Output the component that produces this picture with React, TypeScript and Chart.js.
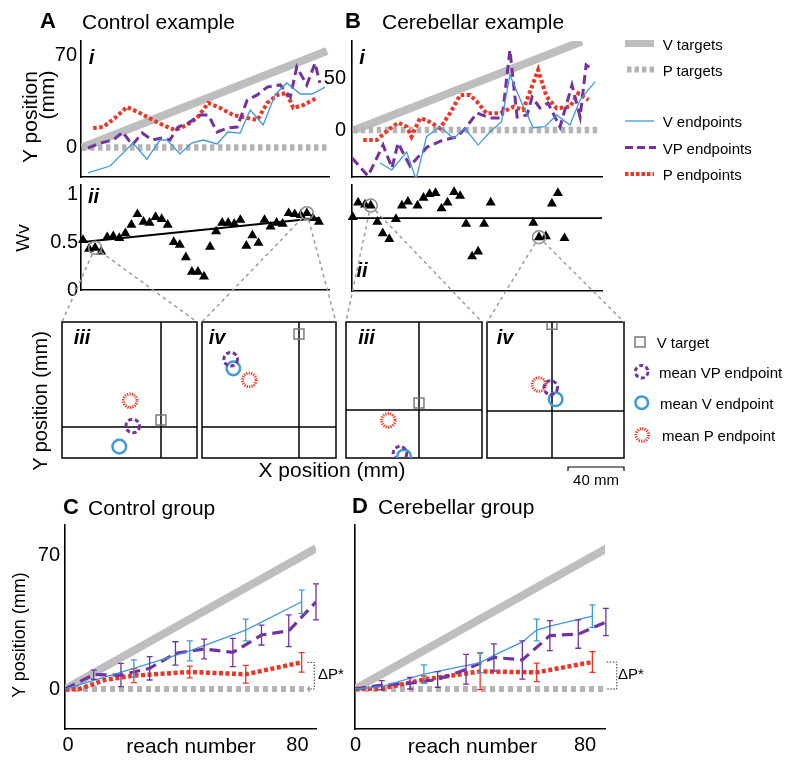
import React, { useEffect, useRef } from 'react';
import { Chart, registerables } from 'chart.js';

Chart.register(...registerables);

const FONT = '"Liberation Sans", Arial, Helvetica, sans-serif';
Chart.defaults.font.family = FONT;
Chart.defaults.color = '#000';

const GRAY = '#bebebe';
const GRAY_DOT = '#b4b4b4';
const BLUE = '#3e9ad8';
const PURPLE = '#7232a0';
const RED = '#ee3424';
const RING = '#8c8c8c';

// ===== A: control example, panel i (Y position in mm vs reach) =====
const A_VTARGET_X = [0, 41.5];
const A_VTARGET_Y = [0, 73.5];
const A_PTARGET_X = [0, 41.7];
const A_PTARGET_Y = [0, 0];
const A_V_X = [1.0, 4.75, 8.64, 11.0, 13.2, 14.4, 16.6, 18.6, 20.5, 22.9, 24.7, 26.8, 28.5, 30.7, 32.7, 34.7, 37.0, 39.0, 41.2];
const A_V_Y = [-19.4, -14.1, 3.4, -8.8, 5.7, 5.7, -4.9, 3.4, 5.7, 2.7, 11.8, 11.0, 28.5, 17.1, 40.0, 49.1, 40.7, 40.7, 46.0];
const A_VP_X = [1.0, 3.1, 5.3, 6.9, 8.5, 10.2, 11.9, 13.6, 14.9, 16.3, 18.0, 20.0, 21.4, 22.9, 24.6, 26.3, 28.0, 29.7, 31.4, 33.6, 35.3, 36.4, 38.1, 39.5, 40.3];
const A_VP_Y = [-0.4, 3.4, 5.7, 11.8, 1.9, 11.0, 5.7, 7.2, 5.7, 15.6, 18.6, 24.7, 24.7, 11.8, 14.8, 15.6, 36.1, 40.0, 46.0, 47.6, 38.4, 61.3, 47.6, 64.3, 49.1];
const A_P_X = [1.9, 3.6, 5.6, 7.6, 9.8, 12.0, 13.7, 15.8, 17.8, 19.5, 21.4, 23.4, 25.6, 28.0, 29.7, 31.4, 33.1, 34.7, 35.8, 37.5, 39.8];
const A_P_Y = [14.8, 15.6, 22.5, 30.8, 26.3, 20.9, 17.1, 13.3, 17.1, 22.5, 33.9, 30.1, 24.7, 22.5, 20.9, 33.9, 40.0, 41.5, 30.1, 32.3, 37.7];

// ===== A ii: visual weight per VP reach =====
const A_WV = [0.52, 0.43, 0.44, 0.40, 0.55, 0.56, 0.54, 0.59, 0.68, 0.79, 0.71, 0.70, 0.76, 0.74, 0.68, 0.50, 0.47, 0.34, 0.19, 0.19,
  0.14, 0.45, 0.61, 0.70, 0.70, 0.69, 0.73, 0.46, 0.57, 0.49, 0.73, 0.66, 0.70, 0.69, 0.80, 0.79, 0.78, 0.80, 0.75, 0.71];
const A_WV_X = A_WV.map((_, i) => i);
const A_FIT_X = [0, 39];
const A_FIT_Y = [0.5, 0.75];
const A_PICK = [2, 37];

// ===== B: cerebellar example, panel i =====
const B_VTARGET_X = [0.3, 38.2];
const B_VTARGET_Y = [0, 86];
const B_PTARGET_X = [0, 40.9];
const B_PTARGET_Y = [0, 0];
const B_V_X = [4.55, 6.5, 9.0, 10.55, 12.3, 14.55, 16.8, 18.7, 20.9, 22.9, 24.8, 26.2, 28.2, 30.1, 32.05, 34, 36.2, 37.9, 40.4];
const B_V_Y = [-32, -38.8, -21.4, -48, -6.5, 3.2, -8.1, 1.7, -14.6, -1.7, 8.1, 53.4, 25.9, 2.2, 3.2, 14.6, 4.9, 29.1, 46.9];
const B_VP_X = [-0.1, 2.55, 5.05, 6.55, 7.55, 9.55, 12.4, 15.05, 17.4, 18.8, 20.7, 22.9, 24.9, 26.2, 27.4, 29.05, 29.9, 31.2, 32.55, 34.55, 36.55, 37.9, 38.9, 40.05];
const B_VP_Y = [-27.2, -44.7, -14.6, -36.9, -12.6, -35, -16.5, -9.7, -6.8, 1.9, 16.5, 11.7, 11.7, 77.7, 12.6, 14.6, 32, 21.4, 26.2, 2.9, 43.7, 12.6, 63.1, 58.3];
const B_P_X = [1.75, 4.0, 5.9, 7.6, 9.0, 9.8, 11.2, 12.3, 14.55, 16.2, 17.9, 19.55, 20.7, 22.3, 24.55, 26.8, 28.4, 30.9, 32.3, 34, 36.2, 37.6, 39.3];
const B_P_Y = [-9.7, -9.7, 0, 7.1, 3.2, -6.5, 11.4, 9.7, 1.7, 16.2, 34, 34, 27.5, 16.2, 16.2, 22.6, 19.4, 58.3, 32.3, 21.1, 22.6, 35.6, 29.1];

// ===== B ii =====
const B_WV_X = [0, 0.9, 2.05, 3, 4.1, 5, 6.1, 7.2, 8.2, 9.2, 10.8, 11.8, 12.8, 13.8, 14.8, 15.8, 16.9, 17.9, 18.9, 19.9, 20.9, 21.9, 23, 30.1, 31.05, 32.2, 33.2, 34.2, 35.3];
const B_WV = [0.77, 0.92, 0.90, 0.89, 0.72, 0.60, 0.54, 0.75, 0.89, 0.93, 0.89, 0.97, 1.01, 1.02, 0.86, 0.92, 1.03, 0.99, 0.70, 0.36, 0.41, 0.70, 0.92, 0.71, 0.56, 0.57, 0.91, 1.02, 0.55];
const B_WV_MEAN = 0.76;
const B_PICK = [3, 24];

// ===== iii / iv: endpoint positions (mm), [x, y] =====
const TARGET_X = 0;
const P_TARGET_Y = 0;
const A3_VT = [0, 5]; const A3_VP = [-20.2, 0.7]; const A3_V = [-29.8, -14]; const A3_P = [-22.1, 18.8];
const A4_VT = [0, 66.4]; const A4_VP = [-48.8, 48.4]; const A4_V = [-46.9, 41.9]; const A4_P = [-35.5, 33.6];
const B3_VT = [0, 5]; const B3_VP = [-13.6, -31]; const B3_V = [-10.7, -33.2]; const B3_P = [-21.9, -7.4];
const B4_VT = [0, 61.9]; const B4_VP = [-0.9, 16.7]; const B4_V = [2.6, 8.4]; const B4_P = [-9.3, 18.9];
const SCALE_BAR_MM = 40;

// ===== C: control group =====
const C_VTARGET_X = [0, 87.5];
const C_VTARGET_Y = [0, 73.5];
const C_PTARGET_X = [0, 85.4];
const C_PTARGET_Y = [0, 0];
const C_V_X = [0, 24, 43.5, 63, 82.5];
const C_V_Y = [0, 10.8, 19.9, 30.8, 45.6];
const C_V_ERR = [0, 4.4, 5.2, 5.7, 6.1];
const C_VP_X = [0, 10, 19.5, 29.5, 38.5, 48.5, 58.5, 68.5, 78, 87.5];
const C_VP_Y = [0, 7.5, 7.3, 10.8, 18.6, 20.9, 19.1, 28.2, 30.4, 45.5];
const C_VP_ERR = [0, 2.4, 6.1, 6.1, 6.1, 5.2, 7.4, 5.2, 8.3, 9.4];
const C_P_X = [0, 5, 14, 24, 43.5, 63, 82.5];
const C_P_Y = [-0.3, 0, 4.8, 7.0, 8.9, 7.7, 13.9];
const C_P_ERR = [0, 0, 0, 3.7, 3.1, 4.6, 5.1];

// ===== D: cerebellar group =====
const D_VTARGET_X = [0, 87.7];
const D_VTARGET_Y = [0, 73.5];
const D_PTARGET_X = [0, 87.1];
const D_PTARGET_Y = [0, 0];
const D_V_X = [0, 9.3, 24, 43.6, 48.4, 58.3, 63.3, 67.9, 82.7];
const D_V_Y = [0, 1.2, 7.8, 13.8, 17.6, 24.6, 30.8, 32.9, 38.1];
const D_V_ERR = [0, 0, 4.8, 5.2, 0, 0, 5.7, 0, 5.9];
const D_VP_X = [0, 9.3, 19.2, 28.8, 38.7, 48.4, 58.3, 67.9, 77.8, 87.4];
const D_VP_Y = [0, 2.0, 3.0, 5.0, 10.3, 16.5, 15.2, 27.9, 28.7, 35.0];
const D_VP_ERR = [0, 2.4, 3.0, 4.1, 7.8, 7.1, 10, 7.8, 7.4, 7.1];
const D_P_X = [0, 9.3, 24, 43.6, 63.3, 82.7];
const D_P_Y = [0, 0.2, 4.9, 9.2, 8.7, 14.1];
const D_P_ERR = [0, 0, 1.9, 9.5, 4.8, 5.4];

const C_TICKS_X = [0, 80];
const C_TICKS_Y = [0, 70];

// ---------------- helpers ----------------
type Rect = { l: number; t: number; r: number; b: number };
type Marg = { L: number; T: number; R: number; B: number };

const pts = (xs: number[], ys: number[]) => xs.map((x, i) => ({ x, y: ys[i] }));
const one = (p: number[]) => [{ x: p[0], y: p[1] }];

const line = (xs: number[], ys: number[], color: string, width: number, dash: number[] = [], order = 0, extra: any = {}) => ({
  data: pts(xs, ys), borderColor: color, borderWidth: width, borderDash: dash, pointRadius: 0,
  showLine: true, fill: false, tension: 0, order, borderCapStyle: 'butt', ...extra,
});

const marks = (data: any[], style: string, radius: number, color: string, bg: string, bw: number, order: number, extra: any = {}) => ({
  data, showLine: false, pointStyle: style, pointRadius: radius, pointBorderColor: color,
  pointBackgroundColor: bg, pointBorderWidth: bw, order, ...extra,
});

type AxisSpec = { min: number; max: number; ticks?: number[]; pad?: number; labelOffset?: number };

function axis(dir: 'x' | 'y', s: AxisSpec, size: number) {
  const vals = s.ticks && s.ticks.length ? s.ticks : null;
  return {
    type: 'linear',
    position: dir === 'x' ? 'bottom' : 'left',
    min: s.min, max: s.max,
    grid: { display: false, drawTicks: false },
    border: { display: true, color: '#000', width: 1.6 },
    ticks: {
      display: !!vals, autoSkip: false, maxRotation: 0, minRotation: 0,
      padding: s.pad ?? 4, labelOffset: s.labelOffset ?? 0,
      color: '#000', font: { size: 20, family: FONT },
      callback: (v: number) => String(v),
    },
    afterBuildTicks: (sc: any) => { sc.ticks = (vals || [s.min]).map((v) => ({ value: v })); },
    afterFit: (sc: any) => {
      if (dir === 'x') { sc.height = size; sc.paddingLeft = 0; sc.paddingRight = 0; }
      else { sc.width = size; sc.paddingTop = 0; sc.paddingBottom = 0; }
    },
  };
}

function opts(m: Marg, scales: any, plugins: any = {}, boxed = false) {
  return {
    responsive: false, maintainAspectRatio: false, animation: false, events: [],
    layout: {
      autoPadding: false,
      padding: boxed ? { left: m.L, top: m.T, right: m.R, bottom: m.B } : { left: 0, top: m.T, right: m.R, bottom: 0 },
    },
    plugins: { legend: { display: false }, tooltip: { enabled: false }, ...plugins },
    scales,
  };
}

const errorBars = {
  id: 'errorBars',
  afterDatasetsDraw(chart: any) {
    const { ctx } = chart;
    const xs = chart.scales.x, ys = chart.scales.y;
    chart.data.datasets.forEach((ds: any) => {
      if (!ds.errors) return;
      ctx.save();
      ctx.setLineDash([]);
      ctx.strokeStyle = ds.errorColor || ds.borderColor;
      ctx.lineWidth = 1.3;
      ds.data.forEach((p: any, i: number) => {
        const e = ds.errors[i];
        if (!e) return;
        const px = xs.getPixelForValue(p.x);
        const y1 = ys.getPixelForValue(p.y + e);
        const y2 = ys.getPixelForValue(p.y - e);
        ctx.beginPath();
        ctx.moveTo(px, y1); ctx.lineTo(px, y2);
        ctx.moveTo(px - 3, y1); ctx.lineTo(px + 3, y1);
        ctx.moveTo(px - 3, y2); ctx.lineTo(px + 3, y2);
        ctx.stroke();
      });
      ctx.restore();
    });
  },
};

const pointDash = {
  id: 'pointDash',
  beforeDatasetDraw(chart: any, args: any) {
    const ds = chart.data.datasets[args.index];
    if (ds.pointDash) { chart.ctx.save(); chart.ctx.setLineDash(ds.pointDash); }
  },
  afterDatasetDraw(chart: any, args: any) {
    const ds = chart.data.datasets[args.index];
    if (ds.pointDash) chart.ctx.restore();
  },
};

const frame = {
  id: 'frame',
  beforeDatasetsDraw(chart: any, _a: any, o: any) {
    const { ctx, chartArea: a } = chart;
    ctx.save();
    ctx.setLineDash([]);
    ctx.strokeStyle = '#000';
    ctx.lineWidth = 1.5;
    ctx.strokeRect(a.left, a.top, a.right - a.left, a.bottom - a.top);
    const px = chart.scales.x.getPixelForValue(o.cx);
    const py = chart.scales.y.getPixelForValue(o.cy);
    ctx.beginPath();
    ctx.moveTo(px, a.top); ctx.lineTo(px, a.bottom);
    ctx.moveTo(a.left, py); ctx.lineTo(a.right, py);
    ctx.stroke();
    ctx.restore();
  },
};

const bracket = {
  id: 'bracket',
  afterDraw(chart: any, _a: any, o: any) {
    const { ctx } = chart;
    const x1 = chart.scales.x.getPixelForValue(o.x1);
    const x2 = chart.scales.x.getPixelForValue(o.x2);
    const yt = chart.scales.y.getPixelForValue(o.top);
    const yb = chart.scales.y.getPixelForValue(o.bottom);
    ctx.save();
    ctx.strokeStyle = '#333';
    ctx.lineWidth = 1;
    ctx.setLineDash([1.5, 1.5]);
    ctx.beginPath();
    ctx.moveTo(x1, yt); ctx.lineTo(x2, yt); ctx.lineTo(x2, yb); ctx.lineTo(x1, yb);
    ctx.stroke();
    ctx.restore();
  },
};

function examplePanel(m: Marg, d: any) {
  return {
    type: 'scatter',
    data: {
      datasets: [
        line(d.vtx, d.vty, GRAY, 8, [], 10),
        line(d.ptx, d.pty, GRAY_DOT, 6.5, [4.5, 3.5], 9),
        line(d.px, d.py, RED, 4, [3.5, 2.5], 3),
        line(d.vpx, d.vpy, PURPLE, 3, [9, 5], 2),
        line(d.vx, d.vy, BLUE, 1.3, [], 1),
      ],
    },
    options: opts(m, { x: axis('x', d.xa, m.B), y: axis('y', d.ya, m.L) }),
  };
}

function weightPanel(m: Marg, d: any) {
  return {
    type: 'scatter',
    data: {
      datasets: [
        marks(d.rings, 'circle', 6.5, RING, 'rgba(0,0,0,0)', 1.5, 1, { clip: false }),
        marks(pts(d.wx, d.wy), 'triangle', 5.8, '#000', '#000', 0, 2, { clip: false }),
        line(d.fx, d.fy, '#000', 1.8, [], 3),
      ],
    },
    options: opts(m, { x: axis('x', d.xa, m.B), y: axis('y', d.ya, m.L) }),
  };
}

function endpointPanel(m: Marg, d: any) {
  return {
    type: 'scatter',
    data: {
      datasets: [
        marks(one(d.vt), 'rect', 7, '#7a7a7a', 'rgba(0,0,0,0)', 1.5, 4, { clip: 0 }),
        marks(one(d.p), 'circle', 6.8, RED, 'rgba(0,0,0,0)', 3, 3, { clip: 0, pointDash: [1.2, 1.2] }),
        marks(one(d.v), 'circle', 6.8, BLUE, 'rgba(0,0,0,0)', 2.5, 2, { clip: 0 }),
        marks(one(d.vp), 'circle', 6.8, PURPLE, 'rgba(0,0,0,0)', 3, 1, { clip: 0, pointDash: [4.2, 2.6] }),
      ],
    },
    options: opts(m, {
      x: { type: 'linear', display: false, min: d.xr[0], max: d.xr[1] },
      y: { type: 'linear', display: false, min: d.yr[0], max: d.yr[1] },
    }, { frame: { cx: TARGET_X, cy: P_TARGET_Y } }, true),
    plugins: [frame, pointDash],
  };
}

function groupPanel(m: Marg, d: any) {
  return {
    type: 'scatter',
    data: {
      datasets: [
        line(d.vtx, d.vty, GRAY, 8, [], 10),
        line(d.ptx, d.pty, GRAY_DOT, 6, [5, 4], 9),
        line(d.px, d.py, RED, 4.5, [4, 2.5], 3, { errors: d.pe, errorColor: RED }),
        line(d.vpx, d.vpy, PURPLE, 3.2, [11, 6], 2, { errors: d.vpe, errorColor: PURPLE }),
        line(d.vx, d.vy, BLUE, 1.3, [], 1, { errors: d.ve, errorColor: BLUE }),
      ],
    },
    options: opts(m, { x: axis('x', d.xa, m.B), y: axis('y', d.ya, m.L) }, { bracket: d.br }),
    plugins: [errorBars, bracket],
  };
}

type Panel = { key: string; area: Rect; m: Marg; build: (m: Marg) => any };

const PANELS: Panel[] = [
  {
    key: 'ai', area: { l: 81, t: 41, r: 329, b: 177 }, m: { L: 40, T: 2, R: 4, B: 4 },
    build: (m) => examplePanel(m, {
      vtx: A_VTARGET_X, vty: A_VTARGET_Y, ptx: A_PTARGET_X, pty: A_PTARGET_Y,
      px: A_P_X, py: A_P_Y, vpx: A_VP_X, vpy: A_VP_Y, vx: A_V_X, vy: A_V_Y,
      xa: { min: -0.17, max: 41.86 }, ya: { min: -22.45, max: 81.05, ticks: [0, 70], pad: 4 },
    }),
  },
  {
    key: 'aii', area: { l: 81, t: 185, r: 329, b: 290 }, m: { L: 45, T: 2, R: 4, B: 14 },
    build: (m) => weightPanel(m, {
      wx: A_WV_X, wy: A_WV, fx: A_FIT_X, fy: A_FIT_Y,
      rings: A_PICK.map((i) => ({ x: A_WV_X[i], y: A_WV[i] })),
      xa: { min: -0.33, max: 40.66 }, ya: { min: 0, max: 1.094, ticks: [0, 0.5, 1], pad: 3 },
    }),
  },
  {
    key: 'bi', area: { l: 352, t: 41, r: 602, b: 177 }, m: { L: 40, T: 2, R: 4, B: 4 },
    build: (m) => examplePanel(m, {
      vtx: B_VTARGET_X, vty: B_VTARGET_Y, ptx: B_PTARGET_X, pty: B_PTARGET_Y,
      px: B_P_X, py: B_P_Y, vpx: B_VP_X, vpy: B_VP_Y, vx: B_V_X, vy: B_V_Y,
      xa: { min: -0.12, max: 41.55 }, ya: { min: -45.6, max: 86.4, ticks: [0, 50], pad: 6 },
    }),
  },
  {
    key: 'bii', area: { l: 352, t: 185, r: 602, b: 291 }, m: { L: 10, T: 2, R: 4, B: 4 },
    build: (m) => weightPanel(m, {
      wx: B_WV_X, wy: B_WV, fx: [-0.12, 41.55], fy: [B_WV_MEAN, B_WV_MEAN],
      rings: B_PICK.map((i) => ({ x: B_WV_X[i], y: B_WV[i] })),
      xa: { min: -0.12, max: 41.55 }, ya: { min: 0, max: 1.104 },
    }),
  },
  {
    key: 'aiii', area: { l: 62, t: 322, r: 197, b: 458 }, m: { L: 3, T: 3, R: 3, B: 3 },
    build: (m) => endpointPanel(m, { vt: A3_VT, vp: A3_VP, v: A3_V, p: A3_P, xr: [-70.71, 25.71], yr: [-22.14, 75] }),
  },
  {
    key: 'aiv', area: { l: 202, t: 322, r: 336, b: 458 }, m: { L: 3, T: 3, R: 3, B: 3 },
    build: (m) => endpointPanel(m, { vt: A4_VT, vp: A4_VP, v: A4_V, p: A4_P, xr: [-69.29, 26.43], yr: [-22.14, 75] }),
  },
  {
    key: 'biii', area: { l: 346, t: 322, r: 482, b: 458 }, m: { L: 3, T: 3, R: 3, B: 3 },
    build: (m) => endpointPanel(m, { vt: B3_VT, vp: B3_VP, v: B3_V, p: B3_P, xr: [-52.14, 45], yr: [-34.29, 62.86] }),
  },
  {
    key: 'biv', area: { l: 487, t: 322, r: 624, b: 458 }, m: { L: 3, T: 3, R: 3, B: 3 },
    build: (m) => endpointPanel(m, { vt: B4_VT, vp: B4_VP, v: B4_V, p: B4_P, xr: [-46.43, 51.43], yr: [-33.57, 63.57] }),
  },
  {
    key: 'c', area: { l: 65, t: 525, r: 316, b: 729 }, m: { L: 45, T: 4, R: 22, B: 30 },
    build: (m) => groupPanel(m, {
      vtx: C_VTARGET_X, vty: C_VTARGET_Y, ptx: C_PTARGET_X, pty: C_PTARGET_Y,
      px: C_P_X, py: C_P_Y, pe: C_P_ERR, vpx: C_VP_X, vpy: C_VP_Y, vpe: C_VP_ERR, vx: C_V_X, vy: C_V_Y, ve: C_V_ERR,
      xa: { min: 0, max: 87.5, ticks: C_TICKS_X, pad: 4, labelOffset: 3 },
      ya: { min: -20.9, max: 85.7, ticks: C_TICKS_Y, pad: 5 },
      br: { x1: 84.5, x2: 86.9, top: C_P_Y[C_P_Y.length - 1], bottom: C_PTARGET_Y[0] },
    }),
  },
  {
    key: 'd', area: { l: 355, t: 525, r: 605, b: 729 }, m: { L: 10, T: 4, R: 22, B: 30 },
    build: (m) => groupPanel(m, {
      vtx: D_VTARGET_X, vty: D_VTARGET_Y, ptx: D_PTARGET_X, pty: D_PTARGET_Y,
      px: D_P_X, py: D_P_Y, pe: D_P_ERR, vpx: D_VP_X, vpy: D_VP_Y, vpe: D_VP_ERR, vx: D_V_X, vy: D_V_Y, ve: D_V_ERR,
      xa: { min: 0, max: 87.1, ticks: C_TICKS_X, pad: 4, labelOffset: 0.5 },
      ya: { min: -20.9, max: 85.7 },
      br: { x1: 87.7, x2: 91.2, top: D_P_Y[D_P_Y.length - 1], bottom: D_PTARGET_Y[0] },
    }),
  },
];

const PANEL_MAP: Record<string, Panel> = Object.fromEntries(PANELS.map((p) => [p.key, p]));

function drawOverlay(cv: HTMLCanvasElement, charts: Record<string, any>) {
  const ctx = cv.getContext('2d');
  if (!ctx) return;
  ctx.clearRect(0, 0, cv.width, cv.height);
  const origin = (k: string) => { const p = PANEL_MAP[k]; return [p.area.l - p.m.L, p.area.t - p.m.T]; };
  const dataPx = (k: string, x: number, y: number) => {
    const [ox, oy] = origin(k); const c = charts[k];
    return [ox + c.scales.x.getPixelForValue(x), oy + c.scales.y.getPixelForValue(y)];
  };
  const topCorner = (k: string, right: boolean) => {
    const [ox, oy] = origin(k); const a = charts[k].chartArea;
    return [ox + (right ? a.right : a.left), oy + a.top];
  };
  ctx.save();
  ctx.strokeStyle = '#9c9c9c';
  ctx.lineWidth = 1.5;
  ctx.setLineDash([3.5, 3.5]);
  const link = (f: number[], t: number[]) => {
    const dx = t[0] - f[0], dy = t[1] - f[1];
    const d = Math.hypot(dx, dy) || 1;
    const r = 7;
    ctx.beginPath();
    ctx.moveTo(f[0] + (dx / d) * r, f[1] + (dy / d) * r);
    ctx.lineTo(t[0], t[1]);
    ctx.stroke();
  };
  const a1 = dataPx('aii', A_WV_X[A_PICK[0]], A_WV[A_PICK[0]]);
  const a2 = dataPx('aii', A_WV_X[A_PICK[1]], A_WV[A_PICK[1]]);
  link(a1, topCorner('aiii', false)); link(a1, topCorner('aiii', true));
  link(a2, topCorner('aiv', false)); link(a2, topCorner('aiv', true));
  const b1 = dataPx('bii', B_WV_X[B_PICK[0]], B_WV[B_PICK[0]]);
  const b2 = dataPx('bii', B_WV_X[B_PICK[1]], B_WV[B_PICK[1]]);
  link(b1, topCorner('biii', false)); link(b1, topCorner('biii', true));
  link(b2, topCorner('biv', false)); link(b2, topCorner('biv', true));
  ctx.restore();

  // 40 mm scale bar from the B iv scale
  const biv = charts['biv'];
  const [ox] = origin('biv');
  const len = Math.abs(biv.scales.x.getPixelForValue(SCALE_BAR_MM) - biv.scales.x.getPixelForValue(0));
  const xr = ox + biv.chartArea.right;
  const xl = xr - len;
  ctx.save();
  ctx.strokeStyle = '#000';
  ctx.lineWidth = 1.2;
  ctx.beginPath();
  ctx.moveTo(xl, 471); ctx.lineTo(xl, 467); ctx.lineTo(xr, 467); ctx.lineTo(xr, 471);
  ctx.stroke();
  ctx.restore();
}

function Txt({ x, y, size, children, bold, italic, align = 'left', rotate, weight }: any) {
  const tx = align === 'left' ? '0' : align === 'center' ? '-50%' : '-100%';
  return (
    <div style={{
      position: 'absolute', left: x, top: y, fontSize: size, fontFamily: FONT,
      fontWeight: weight ?? (bold ? 700 : 400), fontStyle: italic ? 'italic' : 'normal',
      lineHeight: 1, whiteSpace: 'nowrap', color: '#000', zIndex: 3,
      transform: rotate ? 'translate(-50%,-50%) rotate(-90deg)' : `translate(${tx},-50%)`,
    }}>{children}</div>
  );
}

export default function App() {
  const refs = useRef<Record<string, HTMLCanvasElement | null>>({});
  const overlayRef = useRef<HTMLCanvasElement | null>(null);

  useEffect(() => {
    const charts: Record<string, any> = {};
    PANELS.forEach((p) => {
      const c = refs.current[p.key];
      if (c) charts[p.key] = new Chart(c, p.build(p.m));
    });
    if (overlayRef.current) drawOverlay(overlayRef.current, charts);
    return () => { Object.values(charts).forEach((ch: any) => ch.destroy()); };
  }, []);

  return (
    <div style={{ position: 'absolute', left: 0, top: 0, width: 800, height: 763, background: '#fff', overflow: 'hidden', fontFamily: FONT }}>
      {PANELS.map((p) => {
        const w = p.area.r - p.area.l + p.m.L + p.m.R;
        const h = p.area.b - p.area.t + p.m.T + p.m.B;
        return (
          <canvas key={p.key} ref={(el) => { refs.current[p.key] = el; }} width={w} height={h}
            style={{ position: 'absolute', left: p.area.l - p.m.L, top: p.area.t - p.m.T, width: w, height: h, zIndex: 1 }} />
        );
      })}
      <canvas ref={overlayRef} width={800} height={763} style={{ position: 'absolute', left: 0, top: 0, width: 800, height: 763, pointerEvents: 'none', zIndex: 2 }} />
      <svg width={800} height={763} style={{ position: 'absolute', left: 0, top: 0, pointerEvents: 'none', zIndex: 2 }}>
        <line x1={625} y1={43.5} x2={654} y2={43.5} stroke={GRAY} strokeWidth={7} />
        <line x1={627} y1={69.5} x2={655} y2={69.5} stroke={GRAY_DOT} strokeWidth={6} strokeDasharray="4.5 3" />
        <line x1={625} y1={121} x2={654} y2={121} stroke={BLUE} strokeWidth={1.3} />
        <line x1={625} y1={147.5} x2={656} y2={147.5} stroke={PURPLE} strokeWidth={3} strokeDasharray="8 4" />
        <line x1={625} y1={174} x2={654} y2={174} stroke={RED} strokeWidth={4} strokeDasharray="3.5 2" />
        <rect x={635} y={337} width={10} height={10} fill="none" stroke="#777" strokeWidth={1.5} />
        <circle cx={641.7} cy={371.7} r={6.3} fill="none" stroke={PURPLE} strokeWidth={3} strokeDasharray="4 2.6" />
        <circle cx={641.7} cy={402.7} r={6.3} fill="none" stroke={BLUE} strokeWidth={2.5} />
        <circle cx={642.3} cy={435} r={6.3} fill="none" stroke={RED} strokeWidth={3} strokeDasharray="1.2 1.2" />
      </svg>

      <Txt x={40} y={21} size={22} weight={900}>A</Txt>
      <Txt x={82} y={20.5} size={21}>Control example</Txt>
      <Txt x={345} y={21} size={22} weight={900}>B</Txt>
      <Txt x={382} y={20.5} size={21}>Cerebellar example</Txt>
      <Txt x={63} y={507} size={22} weight={900}>C</Txt>
      <Txt x={88} y={507} size={21}>Control group</Txt>
      <Txt x={352} y={506} size={22} weight={900}>D</Txt>
      <Txt x={378} y={506} size={21}>Cerebellar group</Txt>

      <Txt x={91.5} y={57} size={20} bold italic align="center">i</Txt>
      <Txt x={93.5} y={196} size={20} bold italic align="center">ii</Txt>
      <Txt x={362} y={57} size={20} bold italic align="center">i</Txt>
      <Txt x={362} y={270} size={20} bold italic align="center">ii</Txt>
      <Txt x={82} y={337} size={20} bold italic align="center">iii</Txt>
      <Txt x={217} y={337} size={20} bold italic align="center">iv</Txt>
      <Txt x={366.5} y={337} size={20} bold italic align="center">iii</Txt>
      <Txt x={505} y={337} size={20} bold italic align="center">iv</Txt>

      <Txt x={29} y={117} size={21} rotate>Y position</Txt>
      <Txt x={46} y={95} size={21} rotate>(mm)</Txt>
      <Txt x={22} y={238} size={19} rotate>Wv</Txt>
      <Txt x={40} y={401} size={20} rotate>Y position (mm)</Txt>
      <Txt x={332} y={469} size={21} align="center">X position (mm)</Txt>
      <Txt x={19} y={635} size={18} rotate>Y position (mm)</Txt>
      <Txt x={191} y={745} size={21} align="center">reach number</Txt>
      <Txt x={472.5} y={745} size={21} align="center">reach number</Txt>
      <Txt x={318} y={673} size={15}>ΔP*</Txt>
      <Txt x={618} y={673} size={15}>ΔP*</Txt>
      <Txt x={596} y={478.5} size={15} align="center">40 mm</Txt>

      <Txt x={662.7} y={44} size={15}>V targets</Txt>
      <Txt x={662.7} y={70} size={15}>P targets</Txt>
      <Txt x={662.7} y={121} size={15}>V endpoints</Txt>
      <Txt x={662.7} y={147.5} size={15}>VP endpoints</Txt>
      <Txt x={662.7} y={174} size={15}>P endpoints</Txt>
      <Txt x={656.7} y={342} size={15}>V target</Txt>
      <Txt x={659} y={372} size={15}>mean VP endpoint</Txt>
      <Txt x={660} y={403} size={15}>mean V endpoint</Txt>
      <Txt x={662} y={435} size={15}>mean P endpoint</Txt>
    </div>
  );
}
